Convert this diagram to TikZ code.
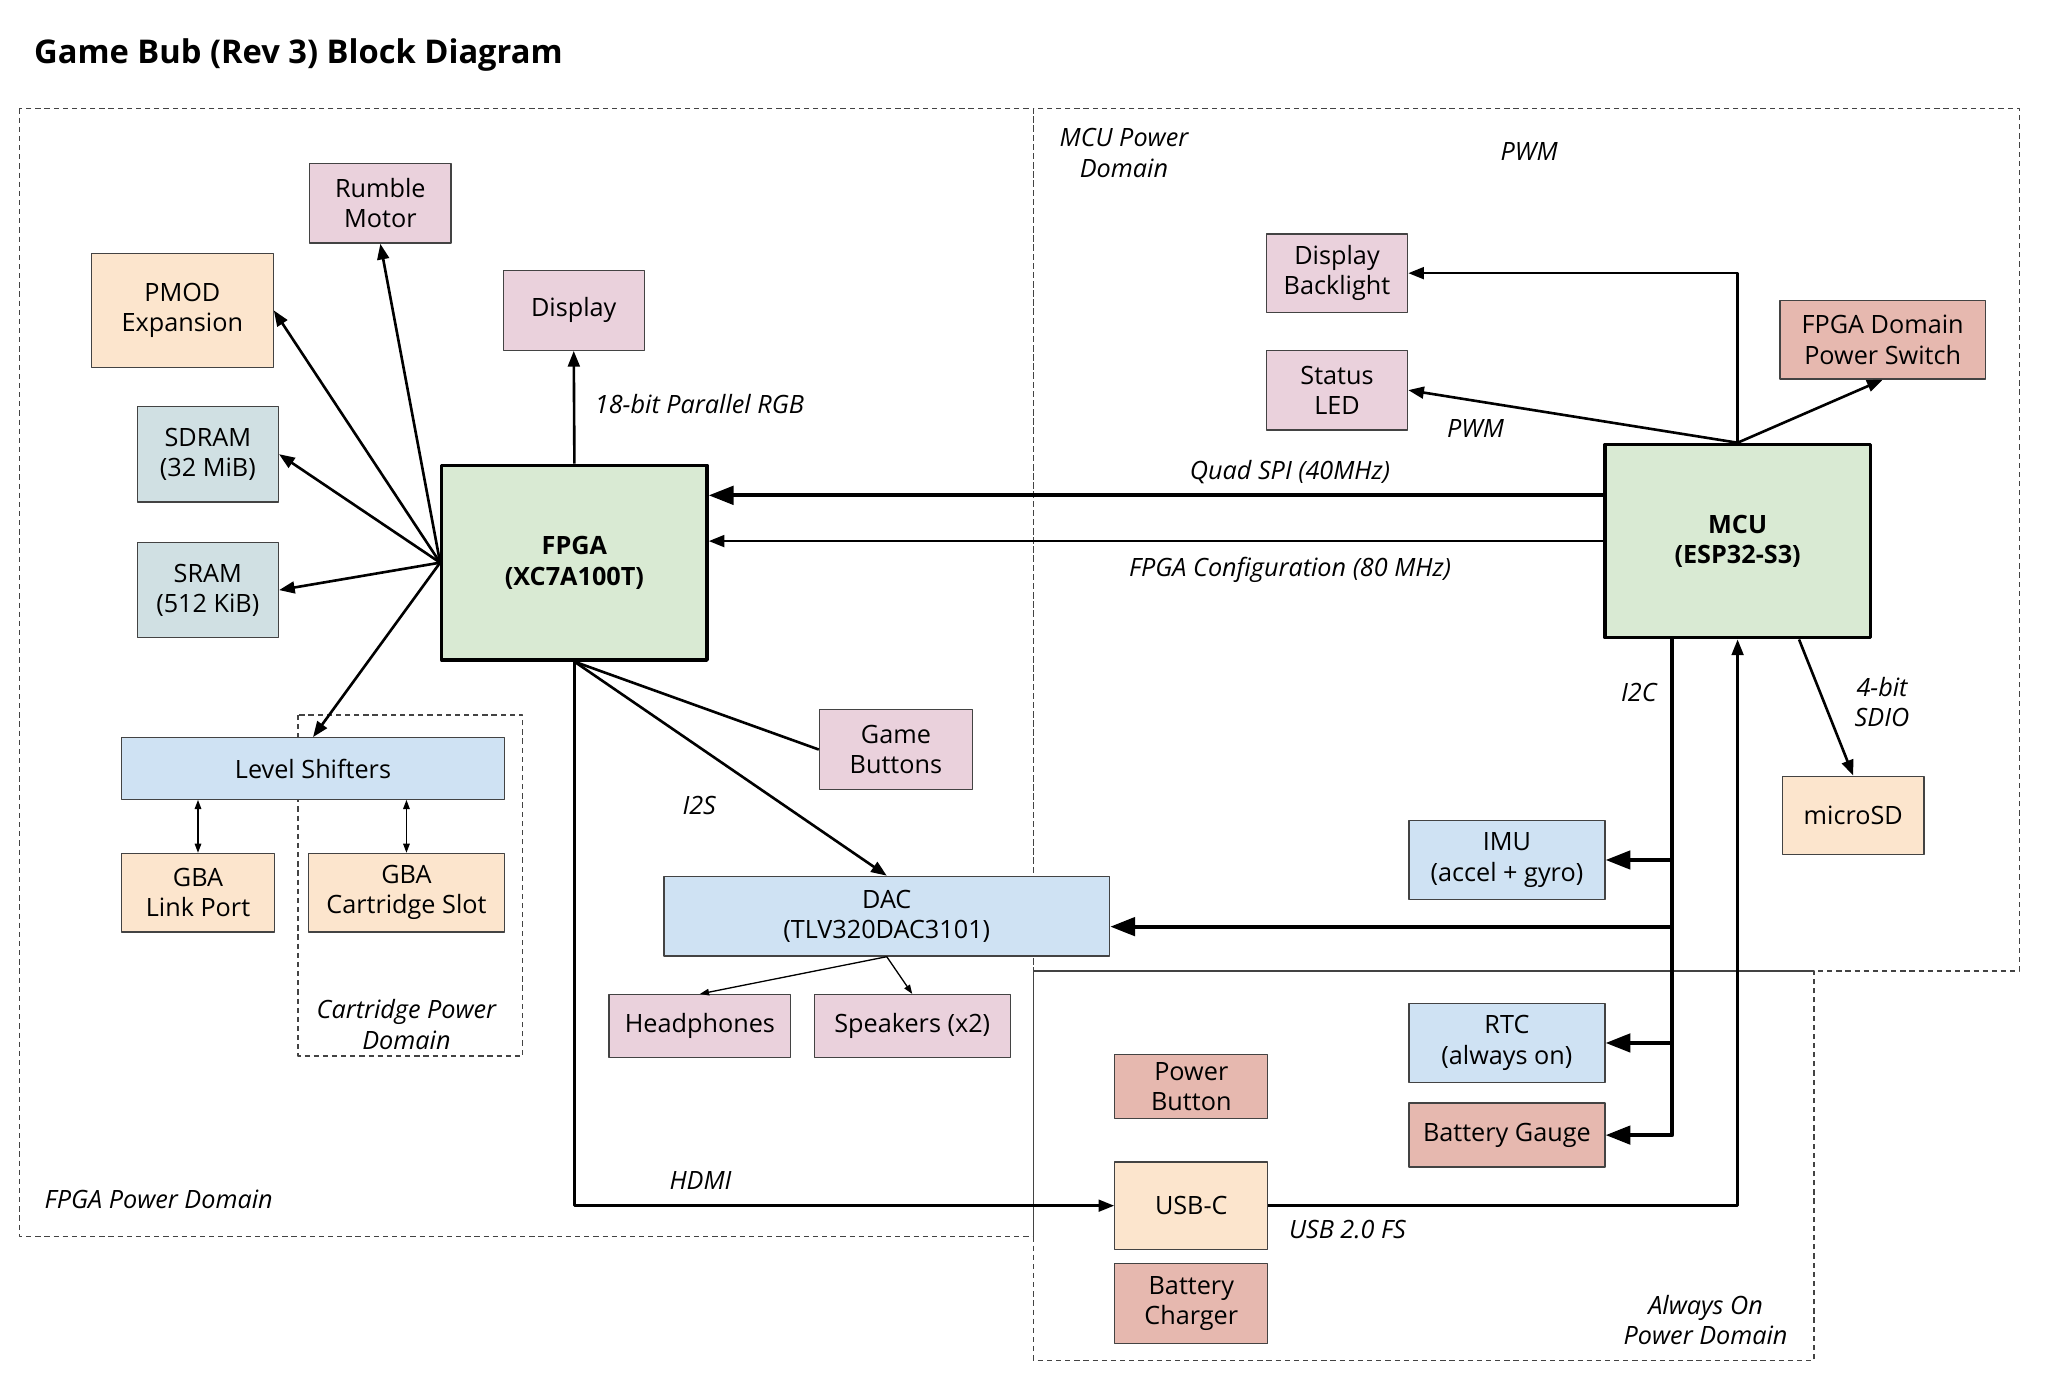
\documentclass[tikz,border=0pt]{standalone}
\usepackage{fontspec}
\setmainfont{Open Sans}
\usetikzlibrary{arrows.meta}
\definecolor{pinkbox}{HTML}{EAD1DC}
\definecolor{peachbox}{HTML}{FCE5CD}
\definecolor{greybox}{HTML}{D0E0E3}
\definecolor{bluebox}{HTML}{CFE2F3}
\definecolor{greenbox}{HTML}{D9EAD3}
\definecolor{redbox}{HTML}{E6B8AF}
\definecolor{edgec}{HTML}{434343}
\begin{document}
\begin{tikzpicture}[x=1pt,y=-1pt,>={Triangle[length=12pt,width=9pt]}, font=\fontsize{19.3}{23.3}\selectfont, line join=round,
	box/.style={draw=edgec,line width=1pt,inner sep=0pt,align=center},
	chip/.style={draw=black,line width=2.5pt,inner sep=0pt,align=center,fill=greenbox,font=\fontsize{19.3}{23.3}\selectfont\bfseries},
	pdomain/.style={draw=edgec,line width=0.9pt,dash pattern=on 4pt off 3pt},
	lbl/.style={font=\fontsize{19.3}{23.3}\selectfont\itshape,align=center,inner sep=0pt},
	link/.style={line width=2pt},
	bus/.style={line width=3pt,-{Triangle[length=19pt,width=14pt]}},
	fine/.style={line width=1pt,>={Triangle[length=7pt,width=5pt]}}]
	\useasboundingbox (0,0) rectangle (1567,1058.2);
	% power domains
	\draw[pdomain] (15,83) rectangle (791,946);
	\draw[pdomain] (791,83) rectangle (1545,743);
	\draw[pdomain] (791,743) rectangle (1388,1041);
	\draw[pdomain] (228,547) rectangle (400,808);
	\node[anchor=west,inner sep=0pt,font=\fontsize{25}{30}\selectfont\bfseries] (title) at (26,42) {Game Bub (Rev 3) Block Diagram};
	% FPGA side
	\node[chip,minimum width=203,minimum height=149] (fpga) at (439.5,430.5) {FPGA\\(XC7A100T)};
	\node[box,fill=pinkbox,minimum width=108,minimum height=61] (rumble) at (291,155.5) {Rumble\\Motor};
	\node[box,fill=peachbox,minimum width=139,minimum height=87] (pmod) at (139.5,237.5) {PMOD\\Expansion};
	\node[box,fill=pinkbox,minimum width=108,minimum height=61] (display) at (439,237.5) {Display};
	\node[box,fill=greybox,minimum width=108,minimum height=73] (sdram) at (159,347.5) {SDRAM\\(32 MiB)};
	\node[box,fill=greybox,minimum width=108,minimum height=73] (sram) at (159,451.5) {SRAM\\(512 KiB)};
	\node[box,fill=bluebox,minimum width=293,minimum height=47] (shifters) at (239.5,588) {Level Shifters};
	\node[box,fill=peachbox,minimum width=117,minimum height=60] (link) at (151.5,683) {GBA\\Link Port};
	\node[box,fill=peachbox,minimum width=150,minimum height=60] (cart) at (311,683) {GBA\\Cartridge Slot};
	\node[box,fill=pinkbox,minimum width=117,minimum height=61] (buttons) at (685.5,573.5) {Game\\Buttons};
	\node[box,fill=bluebox,minimum width=341,minimum height=61] (dac) at (678.5,701) {DAC\\(TLV320DAC3101)};
	\node[box,fill=pinkbox,minimum width=139,minimum height=48] (phones) at (535.5,785) {Headphones};
	\node[box,fill=pinkbox,minimum width=150,minimum height=48] (speakers) at (698,785) {Speakers (x2)};
	% MCU side
	\node[chip,minimum width=203,minimum height=148] (mcu) at (1329.5,414) {MCU\\(ESP32-S3)};
	\node[box,fill=pinkbox,minimum width=108,minimum height=60] (backlight) at (1023,209) {Display\\Backlight};
	\node[box,fill=pinkbox,minimum width=108,minimum height=61] (led) at (1023,298.5) {Status\\LED};
	\node[box,fill=redbox,minimum width=157,minimum height=60] (switch) at (1440.5,260) {FPGA Domain\\Power Switch};
	\node[box,fill=peachbox,minimum width=108,minimum height=60] (sd) at (1418,624) {microSD};
	\node[box,fill=bluebox,minimum width=150,minimum height=60] (imu) at (1153,658) {IMU\\(accel + gyro)};
	\node[box,fill=bluebox,minimum width=150,minimum height=60] (rtc) at (1153,798) {RTC\\(always on)};
	\node[box,fill=redbox,minimum width=150,minimum height=49] (gauge) at (1153,868.5) {Battery Gauge};
	\node[box,fill=redbox,minimum width=117,minimum height=49] (pwrbtn) at (911.5,831.5) {Power\\Button};
	\node[box,fill=peachbox,minimum width=117,minimum height=67] (usbc) at (911.5,922.5) {USB-C};
	\node[box,fill=redbox,minimum width=117,minimum height=61] (charger) at (911.5,997.5) {Battery\\Charger};
	% FPGA connections
	\foreach \t/\a in {rumble/south,pmod/east,sdram/east,sram/east,shifters/north}
		\draw[link,->] (fpga.west) -- (\t.\a);
	\draw[link,->] (fpga.north) -- (display.south);
	\draw[link] (fpga.south) -- (buttons.west);
	\draw[link,->] (fpga.south) -- (dac.north);
	\draw[link,->] (fpga.south) |- (usbc.west);
	\draw[fine,<->] (link.north) -- (link.north |- shifters.south);
	\draw[fine,<->] (cart.north) -- (cart.north |- shifters.south);
	\draw[fine,->] (dac.south) -- (phones.north);
	\draw[fine,->] (dac.south) -- (speakers.north);
	% MCU connections
	\coordinate (qspi) at ([yshift=35pt]mcu.west);
	\draw[bus] (qspi) -- (qspi -| fpga.east);
	\draw[link,->] (mcu.west) -- (mcu.west -| fpga.east);
	\draw[link,->] (mcu.north) |- (backlight.east);
	\draw[link,->] (mcu.north) -- (led.east);
	\draw[link,->] (mcu.north) -- (switch.south);
	\draw[link,->] ([xshift=47pt]mcu.south) -- (sd.north);
	\draw[link,->] (usbc.east) -| (mcu.south);
	\coordinate (i2c) at ([xshift=-50pt]mcu.south);
	\coordinate (dacin) at ([yshift=-8pt]dac.east);
	\draw[bus] (i2c) |- (gauge.east);
	\draw[bus] (i2c |- imu.east) -- (imu.east);
	\draw[bus] (i2c |- dacin) -- (dacin);
	\draw[bus] (i2c |- rtc.east) -- (rtc.east);
	% labels
	\node[lbl,anchor=west] (rgb) at (455,309) {18-bit Parallel RGB};
	\node[lbl] (pwmtop) at (1170,116) {PWM};
	\node[lbl] (pwmled) at (1129,328) {PWM};
	\node[lbl] (spilbl) at (987,361) {Quad SPI (40MHz)};
	\node[lbl] (cfglbl) at (987,436) {FPGA Configuration (80 MHz)};
	\node[lbl] (i2clbl) at (1254,530) {I2C};
	\node[lbl] (sdio) at (1440,537) {4-bit\\SDIO};
	\node[lbl] (i2s) at (535,616) {I2S};
	\node[lbl] (hdmi) at (536,903) {HDMI};
	\node[lbl] (usblbl) at (1031,941) {USB 2.0 FS};
	\node[lbl] (mcudom) at (860,117) {MCU Power\\Domain};
	\node[lbl] (cartdom) at (311,784) {Cartridge Power\\Domain};
	\node[lbl,anchor=west] (fpgadom) at (34,918) {FPGA Power Domain};
	\node[lbl] (aondom) at (1305,1010) {Always On\\Power Domain};
\end{tikzpicture}
\end{document}
